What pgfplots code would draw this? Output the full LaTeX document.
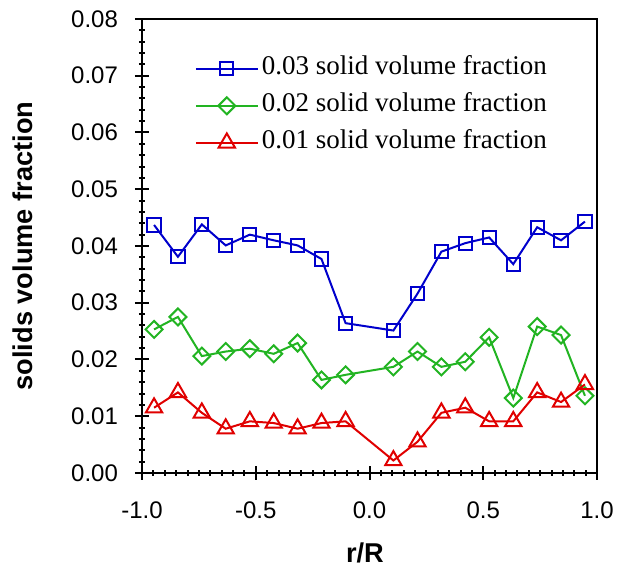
\documentclass[border=0pt]{standalone}
\usepackage{fontspec}
\setmainfont{Liberation Serif}
\newfontfamily\arial{Liberation Sans}
\usepackage{pgfplots}
\pgfplotsset{compat=1.18}

\definecolor{cBlue}{HTML}{0000CC}
\definecolor{cGreen}{HTML}{22B422}
\definecolor{cRed}{HTML}{E00000}

\pgfplotstableread{
x       a       b       c
-0.947  0.0437  0.0253  0.0115
-0.842  0.0381  0.0275  0.0142
-0.737  0.0438  0.0206  0.0106
-0.632  0.0401  0.0214  0.0078
-0.526  0.0420  0.0219  0.0091
-0.421  0.0410  0.0210  0.0088
-0.316  0.0401  0.0229  0.0078
-0.211  0.0377  0.0164  0.0088
-0.105  0.0264  0.0173  0.0091
 0.105  0.0251  0.0187  0.0022
 0.211  0.0316  0.0214  0.0055
 0.316  0.0390  0.0187  0.0106
 0.421  0.0405  0.0196  0.0115
 0.526  0.0415  0.0239  0.0091
 0.632  0.0368  0.0132  0.0091
 0.737  0.0433  0.0258  0.0142
 0.842  0.0410  0.0243  0.0125
 0.947  0.0443  0.0136  0.0156
}\datatab

\begin{document}
\begin{tikzpicture}
\begin{axis}[
    name=ax, scale only axis,
    width=227.5pt, height=227pt,
    xmin=-1, xmax=1, ymin=0, ymax=0.08,
    xtick={-1,-0.5,0,0.5,1}, ytick={0,0.01,...,0.08},
    minor x tick num=9, minor y tick num=4,
    xtick pos=bottom, ytick pos=left,
    tick align=center,
    major tick length=7pt, minor tick length=3pt,
    every tick/.style={black, line width=1pt},
    axis line style={black, line width=1pt},
    tick label style={font=\arial\fontsize{12}{12}\selectfont},
    /pgf/number format/assume math mode=true,
    xticklabel style={/pgf/number format/fixed, /pgf/number format/zerofill,
                      /pgf/number format/precision=1, yshift=-7.5pt},
    yticklabel style={/pgf/number format/fixed, /pgf/number format/zerofill,
                      /pgf/number format/precision=2, xshift=-5pt},
    scaled y ticks=false,
    xlabel={r/R}, ylabel={solids volume fraction},
    label style={font=\arial\bfseries\fontsize{13.6}{13.6}\selectfont},
    xlabel style={at={(axis description cs:0.49,-0.198)}, anchor=base},
    ylabel style={at={(axis description cs:-0.24,0.5)}, anchor=base, rotate=0},
    legend style={at={(0.102,0.933)}, anchor=north west, draw=none, fill=none,
                  font=\fontsize{13.5}{13.5}\selectfont, row sep=3.5pt,
                  nodes={inner sep=1.5pt, text height=9pt, text depth=3pt}},
    legend cell align=left,
    legend image code/.code={\draw[mark repeat=2, mark phase=2, #1]
        plot coordinates {(0pt,0pt) (15.5pt,0pt) (31pt,0pt)};},
]
\addplot[cBlue, line width=1pt, mark=square, mark size=3.3pt,
         mark options={solid, fill=white, line width=1pt}]
  table[x=x, y=a] {\datatab};
\addlegendentry{0.03 solid volume fraction}
\addplot[cGreen, line width=1pt, mark=square, mark size=3pt,
         mark options={solid, fill=white, line width=1pt, rotate=45}]
  table[x=x, y=b] {\datatab};
\addlegendentry{0.02 solid volume fraction}
\addplot[cRed, line width=1pt, mark=triangle, mark size=4.7pt,
         mark options={solid, fill=white, line width=1pt}]
  table[x=x, y=c] {\datatab};
\addlegendentry{0.01 solid volume fraction}
\end{axis}
\path (ax.south west) ++(-71pt,-48pt);
\path (ax.north east) ++(16.5pt,9.5pt);
\end{tikzpicture}
\end{document}
